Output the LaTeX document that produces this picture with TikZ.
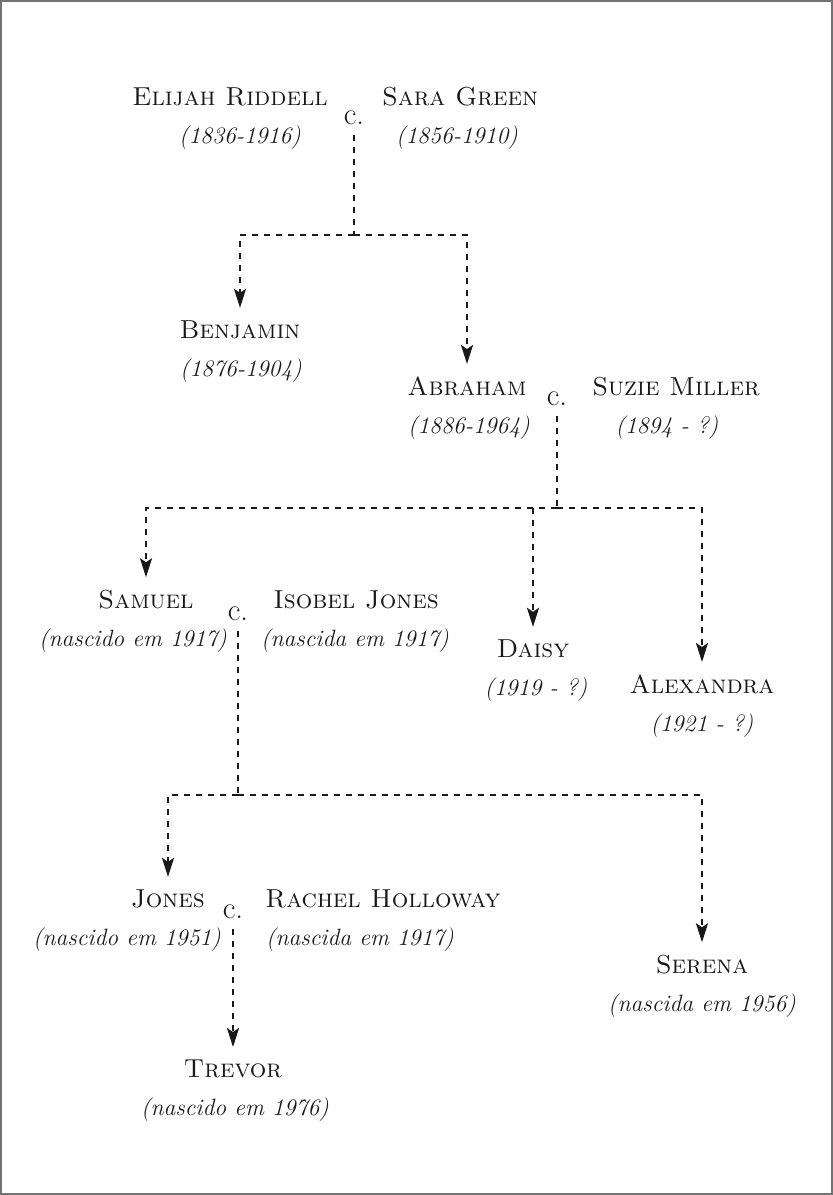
\documentclass[tikz,border=0pt]{standalone}
\usepackage{tikz}
\usetikzlibrary{arrows.meta}
\colorlet{ink}{black!90}
\colorlet{frame}{black!55}
\tikzset{
  dashlink/.style={draw=ink, line width=1.1pt, dashed},
  arrow/.style={dashlink, -{Stealth[length=9.5pt,width=6pt,inset=2pt]}},
  person/.style={
    anchor=base,
    inner xsep=1pt,
    inner ysep=6pt,
    text=ink,
    font=\fontsize{13}{15}\selectfont\scshape
  },
  years/.style={
    anchor=base,
    inner sep=1pt,
    text=ink,
    font=\fontsize{11.8}{14}\selectfont\itshape
  },
  wedtag/.style={
    anchor=base,
    inner sep=5pt,
    text=ink,
    font=\fontsize{15.5}{17}\selectfont
  }
}

\begin{document}
\begin{tikzpicture}[x=0.5pt,y=-0.5pt]
  \useasboundingbox (0,0) rectangle (833,1195);
  \draw[frame, line width=0.75pt] (1,1) rectangle (832,1194);

  % first generation
  \node[person] (elijah) at (230,105) {Elijah Riddell};
  \node[years] (elijahd) at (240,143) {(1836-1916)};
  \node[wedtag] (c1) at (354,124) {c.};
  \node[person] (sara) at (460,105) {Sara Green};
  \node[years] (sarad) at (457,143) {(1856-1910)};

  % second generation
  \node[person] (benjamin) at (240,338) {Benjamin};
  \node[years] (benjamind) at (241,376) {(1876-1904)};
  \node[person] (abraham) at (467,395) {Abraham};
  \node[years] (abrahamd) at (469,433) {(1886-1964)};
  \node[wedtag] (c2) at (557,405) {c.};
  \node[person] (suzie) at (676,395) {Suzie Miller};
  \node[years] (suzied) at (667,433) {(1894 - ?)};

  % third generation
  \node[person] (samuel) at (146,608) {Samuel};
  \node[years] (samueld) at (133,646) {(nascido em 1917)};
  \node[wedtag] (c3) at (238,620) {c.};
  \node[person] (isobel) at (356,608) {Isobel Jones};
  \node[years] (isobeld) at (355,646) {(nascida em 1917)};
  \node[person] (daisy) at (533,657) {Daisy};
  \node[years] (daisyd) at (536,695) {(1919 - ?)};
  \node[person] (alexandra) at (702,693) {Alexandra};
  \node[years] (alexandrad) at (702,731) {(1921 - ?)};

  % fourth generation
  \node[person] (jones) at (168,907) {Jones};
  \node[years] (jonesd) at (127,945) {(nascido em 1951)};
  \node[wedtag] (c4) at (233,918) {c.};
  \node[person] (rachel) at (383,907) {Rachel Holloway};
  \node[years] (racheld) at (360,945) {(nascida em 1917)};
  \node[person] (serena) at (702,973) {Serena};
  \node[years] (serenad) at (702,1011) {(nascida em 1956)};

  % fifth generation
  \node[person] (trevor) at (233,1077) {Trevor};
  \node[years] (trevord) at (235,1115) {(nascido em 1976)};

  \coordinate (j1) at (354,235);
  \coordinate (j2) at (557,508);
  \coordinate (j3) at (238,795);

  \draw[dashlink] (c1.south) -- (j1);
  \draw[arrow] (j1) -| (benjamin.north);
  \draw[arrow] (j1) -| (abraham.north);
  \draw[dashlink] (c2.south) -- (j2);
  \draw[arrow] (j2) -| (samuel.north);
  \draw[arrow] (j2) -| (daisy.north);
  \draw[arrow] (j2) -| (alexandra.north);
  \draw[dashlink] (c3.south) -- (j3);
  \draw[arrow] (j3) -| (jones.north);
  \draw[arrow] (j3) -| (serena.north);
  \draw[arrow] (c4.south) -- (trevor.north);
\end{tikzpicture}
\end{document}
